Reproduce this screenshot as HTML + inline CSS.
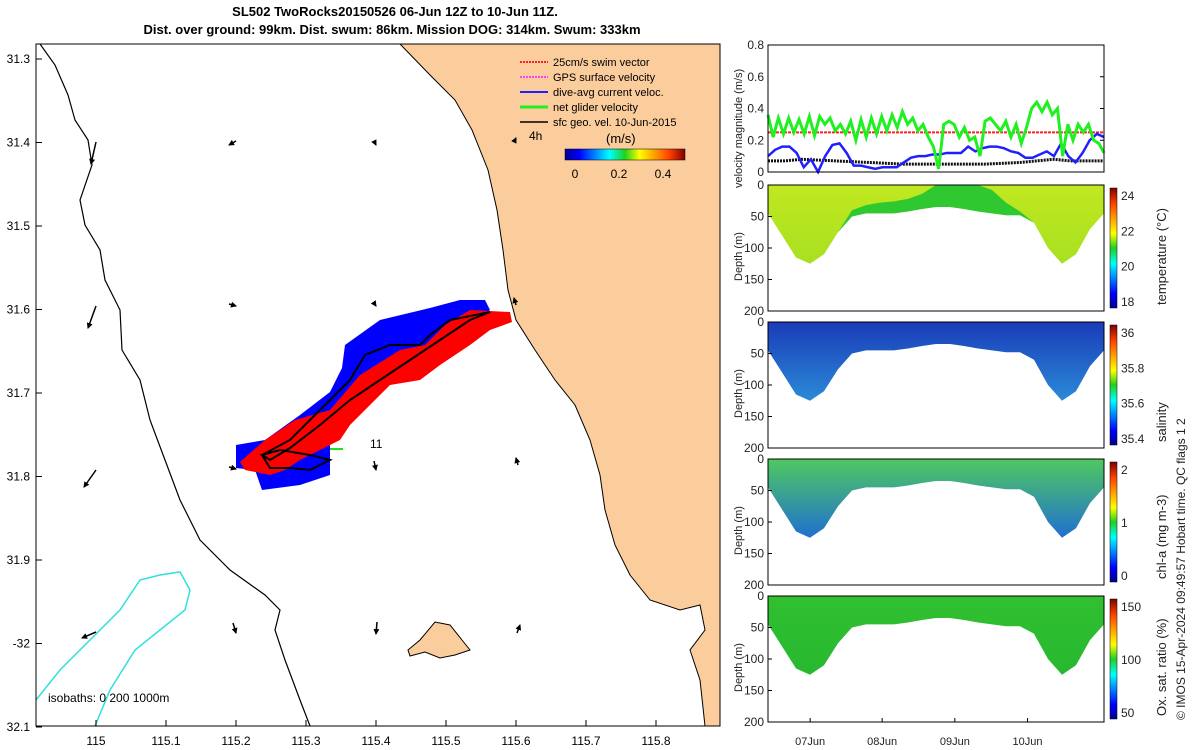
<!DOCTYPE html>
<html><head><meta charset="utf-8"><style>
body{margin:0;background:#fff;}
svg{display:block;font-family:"Liberation Sans",sans-serif;}
</style></head><body>
<svg id="fig" width="1200" height="750" viewBox="0 0 1200 750">
<defs>
<linearGradient id="jet" x1="0" x2="1" y1="0" y2="0">
<stop offset="0" stop-color="#00008f"/><stop offset="0.12" stop-color="#0000ff"/><stop offset="0.37" stop-color="#00ffff"/><stop offset="0.5" stop-color="#20d020"/><stop offset="0.62" stop-color="#ffff00"/><stop offset="0.87" stop-color="#ff4000"/><stop offset="1" stop-color="#800000"/>
</linearGradient>
<linearGradient id="jetv" x1="0" x2="0" y1="1" y2="0">
<stop offset="0" stop-color="#00008f"/><stop offset="0.12" stop-color="#0000ff"/><stop offset="0.37" stop-color="#00ffff"/><stop offset="0.5" stop-color="#20d020"/><stop offset="0.62" stop-color="#ffff00"/><stop offset="0.87" stop-color="#ff4000"/><stop offset="1" stop-color="#800000"/>
</linearGradient>
<marker id="ah" viewBox="0 0 6 6" refX="5" refY="3" markerWidth="4" markerHeight="4" orient="auto"><path d="M0,0 L6,3 L0,6 Z" fill="#000"/></marker>
<clipPath id="mapclip"><rect x="36" y="44" width="684" height="682"/></clipPath>
</defs>

<text x="395" y="16" font-size="13" font-weight="bold" text-anchor="middle">SL502 TwoRocks20150526 06-Jun 12Z to 10-Jun 11Z.</text>
<text x="392" y="34" font-size="13" font-weight="bold" text-anchor="middle">Dist. over ground: 99km. Dist. swum: 86km. Mission DOG: 314km. Swum: 333km</text>

<g id="map" clip-path="url(#mapclip)">
<rect x="36" y="44" width="684" height="682" fill="#fff"/>
<path fill="#fbcd9d" stroke="#000" stroke-width="1" d="M400,44 L430,75 L455,100 L472,130 L488,170 L497,210 L503,250 L508,290 L516,320 L535,350 L555,380 L575,405 L590,440 L600,475 L605,510 L615,545 L630,575 L650,600 L680,610 L700,605 L705,630 L690,650 L700,680 L705,726 L720,726 L720,44 Z"/>
<path fill="#fbcd9d" stroke="#000" d="M408,650 L420,640 L435,622 L450,625 L462,640 L470,650 L455,655 L440,658 L425,652 L410,656 Z"/>
<path fill="none" stroke="#000" stroke-width="1.2" d="M40,44 L55,65 L68,95 L75,120 L88,140 L92,165 L80,200 L85,225 L100,250 L105,280 L120,310 L122,350 L140,380 L150,420 L165,460 L180,500 L200,540 L230,570 L265,595 L280,610 L275,630 L285,660 L300,700 L310,726"/>
<path fill="none" stroke="#30e0e0" stroke-width="1.5" d="M36,700 L60,670 L90,640 L120,610 L140,580 L160,575 L180,572 L190,590 L185,610 L160,630 L135,650 L110,690 L95,726"/>
<g>
<path fill="#0000ff" d="M236,445 L265,440 L300,415 L330,392 L342,368 L345,345 L380,320 L430,308 L460,300 L485,300 L490,310 L470,325 L440,345 L390,370 L360,400 L330,440 L330,475 L300,485 L262,490 L255,470 L236,468 Z"/>
<path fill="#ff0000" d="M240,462 L265,440 L295,420 L330,410 L360,375 L400,350 L425,345 L445,325 L470,310 L510,312 L512,322 L490,330 L470,345 L440,365 L420,380 L390,385 L370,405 L350,425 L340,440 L320,450 L300,460 L285,470 L270,475 L245,470 Z"/>
<path fill="none" stroke="#000" stroke-width="2" d="M262,455 L290,440 L330,400 L350,380 L365,355 L390,345 L420,345 L430,335 L450,320 L490,312 L470,320 L440,340 L410,360 L380,380 L350,400 L320,425 L290,448 L270,460 L262,455 L280,450 L310,455 L330,460 L310,470 L290,468 L270,468 Z"/>
<line x1="330" y1="449" x2="343" y2="449" stroke="#20e020" stroke-width="2"/>
</g>
<text x="370" y="448" font-size="12">11</text>
<g fill="#000" stroke="#000" stroke-width="1.5" marker-end="url(#ah)">
<line x1="96" y1="142" x2="91" y2="164"/><line x1="236" y1="141" x2="229" y2="145"/><line x1="374" y1="141" x2="376" y2="145"/><line x1="514" y1="142" x2="516" y2="138"/>
<line x1="96" y1="306" x2="88" y2="328"/><line x1="229" y1="304" x2="236" y2="306"/><line x1="374" y1="303" x2="376" y2="306"/><line x1="516" y1="305" x2="514" y2="298"/>
<line x1="96" y1="470" x2="84" y2="487"/><line x1="229" y1="467" x2="236" y2="469"/><line x1="374" y1="461" x2="376" y2="470"/><line x1="518" y1="465" x2="516" y2="458"/>
<line x1="96" y1="632" x2="82" y2="638"/><line x1="233" y1="623" x2="236" y2="633"/><line x1="377" y1="622" x2="376" y2="634"/><line x1="517" y1="633" x2="520" y2="625"/>
</g>
<g font-size="11">
<line x1="520" y1="62" x2="548" y2="62" stroke="#ff2020" stroke-width="2" stroke-dasharray="2,1"/><text x="553" y="66">25cm/s swim vector</text>
<line x1="520" y1="77" x2="548" y2="77" stroke="#ff40ff" stroke-width="2" stroke-dasharray="2,1"/><text x="553" y="81">GPS surface velocity</text>
<line x1="520" y1="92" x2="548" y2="92" stroke="#2020ff" stroke-width="2"/><text x="553" y="96">dive-avg current veloc.</text>
<line x1="520" y1="107" x2="548" y2="107" stroke="#20f020" stroke-width="3"/><text x="553" y="111">net glider velocity</text>
<line x1="520" y1="122" x2="548" y2="122" stroke="#000" stroke-width="1.5"/><text x="553" y="126">sfc geo. vel. 10-Jun-2015</text>
<text x="529" y="140" font-size="12">4h</text>
<text x="606" y="143" font-size="13">(m/s)</text>
<rect x="565" y="149" width="120" height="11" fill="url(#jet)" stroke="#000" stroke-width="0.5"/>
<text x="575" y="178" font-size="12" text-anchor="middle">0</text><text x="619" y="178" font-size="12" text-anchor="middle">0.2</text><text x="663" y="178" font-size="12" text-anchor="middle">0.4</text>
</g>
<text x="48" y="702" font-size="12">isobaths: 0   200  1000m</text>
</g>
<rect x="36" y="44" width="684" height="682" fill="none" stroke="#000"/>
<g id="mapticks" font-size="12"></g>

<g id="right"></g>
<text transform="translate(1185,720) rotate(-90)" font-size="12" fill="#222">© IMOS 15-Apr-2024 09:49:57 Hobart time. QC flags 1  2</text>
</svg>
<script>
// Map axis ticks
const lonTicks=[115,115.1,115.2,115.3,115.4,115.5,115.6,115.7,115.8];
const lonLabels=["115","115.1","115.2","115.3","115.4","115.5","115.6","115.7","115.8"];
const latTicks=[31.3,31.4,31.5,31.6,31.7,31.8,31.9,32.0,32.1];
const latLabels=["31.3","31.4","31.5","31.6","31.7","31.8","31.9","-32","32.1"];
// velocity series (m/s), evenly sampled through the mission
const greenVel=[0.36,0.22,0.34,0.24,0.34,0.25,0.33,0.24,0.35,0.23,0.35,0.3,0.34,0.26,0.3,0.24,0.32,0.2,0.33,0.22,0.34,0.24,0.35,0.26,0.36,0.28,0.38,0.3,0.34,0.26,0.3,0.22,0.16,0.02,0.3,0.32,0.3,0.22,0.28,0.2,0.22,0.1,0.32,0.34,0.3,0.26,0.32,0.22,0.3,0.18,0.28,0.4,0.44,0.38,0.44,0.36,0.4,0.1,0.3,0.2,0.3,0.25,0.3,0.2,0.18,0.12];
const blueVel=[0.1,0.14,0.16,0.16,0.12,0.03,0.08,0,0.1,0.17,0.18,0.12,0.04,0.04,0.03,0.02,0.03,0.03,0.03,0.06,0.09,0.1,0.1,0.11,0.11,0.12,0.12,0.12,0.16,0.13,0.15,0.16,0.16,0.15,0.13,0.12,0.09,0.09,0.11,0.13,0.1,0.18,0.1,0.06,0.12,0.2,0.24,0.22];
const blackVel=[0.07,0.07,0.08,0.075,0.07,0.065,0.06,0.055,0.05,0.05,0.05,0.05,0.05,0.05,0.055,0.06,0.07,0.08,0.07,0.07,0.07];
const swimVel=[0.25,0.25];
const dateLabels=["07Jun","08Jun","09Jun","10Jun"];
const dateTicks=[0.58,1.57,2.57,3.57]; // days after start
const bottomDepth=[45,80,115,125,110,75,50,45,45,45,42,38,35,35,38,42,45,48,48,60,100,125,110,70,45];
// top depth of the cooler (green) layer; 200 = absent
const tempTop=[200,200,200,200,200,200,40,32,28,26,22,14,0,0,0,0,8,28,42,200,200,200,200,200,200];

const NS='http://www.w3.org/2000/svg';
function mk(tag,attrs,parent,txt){const e=document.createElementNS(NS,tag);for(const k in attrs)e.setAttribute(k,attrs[k]);if(txt!==undefined)e.textContent=txt;parent.appendChild(e);return e;}
const lonX=v=>96+(v-115)*700;
const latY=v=>59+(v-31.3)*835;
const mt=document.getElementById('mapticks');
lonTicks.forEach((v,i)=>{
 const t=mk('text',{x:lonX(v),y:745,'text-anchor':'middle'},mt,lonLabels[i]);
 
 
 mk('line',{x1:lonX(v),x2:lonX(v),y1:726,y2:720,stroke:'#000'},mt);
});
latTicks.forEach((v,i)=>{
 const t=mk('text',{x:30,y:latY(v)+4,'text-anchor':'end'},mt,latLabels[i]);
 
 
 mk('line',{x1:36,x2:42,y1:latY(v),y2:latY(v),stroke:'#000'},mt);
});

const R=document.getElementById('right');
const X0=768,X1=1104;
const tX=d=>X0+d*72.7;
const vy=v=>172-v/0.8*127;
function series(arr,color,w,dash){
 const n=arr.length;const pts=arr.map((v,i)=>`${X0+i/(n-1)*(X1-X0)},${vy(v)}`).join(' ');
 const p=mk('polyline',{points:pts,fill:'none',stroke:color,'stroke-width':w},R);
 if(dash)p.setAttribute('stroke-dasharray',dash);
 return p;
}
mk('rect',{x:X0,y:45,width:X1-X0,height:127,fill:'#fff'},R);
let s=series(swimVel,'#ff2020',2,'3,1');
s=series(blackVel,'#111',3,'2,1');
s=series(blueVel,'#2020ff',2.5);
s=series(greenVel,'#20f020',3);
mk('rect',{x:X0,y:45,width:X1-X0,height:127,fill:'none',stroke:'#000'},R);
[0,0.2,0.4,0.6,0.8].forEach(v=>{
 const t=mk('text',{x:764,y:vy(v)+4,'text-anchor':'end','font-size':12,fill:'#222'},R,v===0?'0':String(v));
 
 
 mk('line',{x1:X1,x2:X1-4,y1:vy(v),y2:vy(v),stroke:'#000'},R);
});
mk('text',{transform:'translate(742,188) rotate(-90)','font-size':11,fill:'#222'},R,'velocity magnitude (m/s)');

const panels=[
 {y:185,label:'temperature (°C)',ticks:['24','22','20','18'],top:'#c0e820',bot:'#a8e020',band:'#30c830'},
 {y:322,label:'salinity',ticks:['36','35.8','35.6','35.4'],top:'#1a3cb8',bot:'#2a8ad8',band:'#1840c0'},
 {y:459,label:'chl-a (mg m-3)',ticks:['2','1','0'],top:'#50c860',bot:'#2070d0',band:'#60d060'},
 {y:596,label:'Ox. sat. ratio (%)',ticks:['150','100','50'],top:'#30c030',bot:'#28b830',band:'#30c030'}
];
panels.forEach((P,pi)=>{
 const dy=d=>P.y+d/200*126;
 const n=bottomDepth.length;
 const px=i=>X0+i/(n-1)*(X1-X0);
 let pts=`${X0},${dy(0)} `+bottomDepth.map((d,i)=>`${px(i)},${dy(d)}`).join(' ')+` ${X1},${dy(0)}`;
 const g=mk('linearGradient',{id:'pg'+pi,x1:0,x2:0,y1:0,y2:1},document.querySelector('defs'));
 mk('stop',{offset:0,'stop-color':P.top},g);mk('stop',{offset:1,'stop-color':P.bot},g);
 const poly=mk('polygon',{points:pts,fill:`url(#pg${pi})`},R);
 
 
 if(pi===0){
  let bp=tempTop.map((d,i)=>`${px(i)},${dy(Math.min(d,bottomDepth[i]))}`).join(' ');
  bp+=' '+bottomDepth.map((d,i)=>`${px(n-1-i)},${dy(bottomDepth[n-1-i])}`).join(' ');
  const b=mk('polygon',{points:bp,fill:P.band},R);
  
  
 }
 mk('rect',{x:X0,y:P.y,width:X1-X0,height:126,fill:'none',stroke:'#000'},R);
 [0,50,100,150,200].forEach(d=>{
  mk('text',{x:764,y:dy(d)+4,'text-anchor':'end','font-size':12,fill:'#222'},R,String(d));
  mk('line',{x1:X0,x2:X0+4,y1:dy(d),y2:dy(d),stroke:'#000'},R);
 });
 mk('text',{transform:`translate(742,${P.y+96}) rotate(-90)`,'font-size':11,fill:'#222'},R,'Depth (m)');
 const cb=mk('rect',{x:1110,y:P.y+3,width:7,height:120,fill:'url(#jetv)',stroke:'#000','stroke-width':0.5},R);
 
 
 P.ticks.forEach((t,i)=>{
  const yy=P.y+10+i*(106/(P.ticks.length-1));
  mk('text',{x:1121,y:yy+5,'font-size':12,fill:'#222'},R,t);
 });
 mk('text',{transform:`translate(1166,${P.y+120}) rotate(-90)`,'font-size':13,fill:'#222'},R,P.label);
});
dateTicks.forEach((d,i)=>{
 const t=mk('text',{x:tX(d),y:745,'text-anchor':'middle','font-size':11,fill:'#222'},R,dateLabels[i]);
 
 
 mk('line',{x1:tX(d),x2:tX(d),y1:722,y2:718,stroke:'#000'},R);
});
</script>
</body></html>
